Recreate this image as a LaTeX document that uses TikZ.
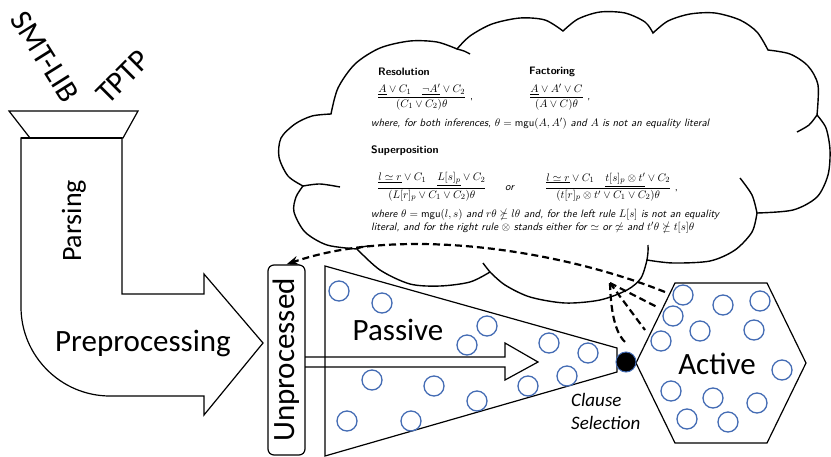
\documentclass[tikz,border=0pt]{standalone}
\usepackage{amsmath,amssymb}
\usepackage{fontspec}
\newfontfamily\calibri{Carlito}
\usetikzlibrary{arrows.meta}
\definecolor{klauselblau}{RGB}{68,108,180}

\begin{document}
\begin{tikzpicture}[x=1pt,y=-1pt,
	umriss/.style={line width=1.2pt},
	wolkenlinie/.style={line width=1.4pt},
	klausel/.style={circle, draw=klauselblau, line width=1.3pt, minimum size=20pt, inner sep=0pt},
	gross/.style={font=\calibri\fontsize{31}{36}\selectfont, inner sep=0pt},
	regel/.style={font=\sffamily\fontsize{10.8}{13}\selectfont, inner sep=0pt, anchor=west},
	kopf/.style={regel, font=\sffamily\bfseries\fontsize{10.8}{13}\selectfont},
	bemerkung/.style={regel, font=\sffamily\itshape\fontsize{10.8}{13}\selectfont},
	gestrichelt/.style={line width=2.2pt, dash pattern=on 7pt off 4pt}]

	\useasboundingbox (0,0) rectangle (831,456);

	% Trichter
	\draw[umriss] (9,111) -- (138,111) -- (123,138) -- (30,138) -- cycle;

	% L-Pfeil
	\draw[umriss] (21,138) -- (122,138) -- (122,294) -- (204,294) -- (204,274) -- (263,343)
		-- (204,415) -- (204,396) -- (110,396) .. controls (61,396) and (21,356) .. (21,307) -- cycle;
	\draw[line width=2.6pt] (21,138) -- (122,138);

	% Eingabeformate
	\node[gross, rotate=-58] (smtlib) at (45,57) {SMT-LIB};
	\node[gross, rotate=45] (tptp) at (123,77) {TPTP};

	% Beschriftung L-Pfeil
	\node[gross, font=\calibri\fontsize{28}{32}\selectfont, rotate=90] (parsing) at (74,221) {Parsing};
	\node[gross] (vorverarb) at (143,343) {Preprocessing};

	% Wolke
	\filldraw[wolkenlinie, fill=white]
		plot[smooth] coordinates {(331,114) (338,88) (355,64) (380,48) (410,41) (437,42) (457,49)}
		-- plot[smooth] coordinates {(457,49) (470,36) (492,24) (520,18) (545,20) (563,31)}
		-- plot[smooth] coordinates {(563,31) (578,19) (600,12) (625,13) (645,22) (653,33)}
		-- plot[smooth] coordinates {(653,33) (668,21) (690,14) (715,13) (740,20) (757,32) (768,50)}
		-- plot[smooth] coordinates {(768,50) (790,54) (808,66) (818,85) (817,115)}
		-- plot[smooth] coordinates {(817,115) (826,128) (830,150) (828,175) (817,197) (793,210) (757,213)}
		-- plot[smooth] coordinates {(757,213) (752,232) (735,250) (710,261) (673,263) (647,260)}
		-- plot[smooth] coordinates {(647,260) (641,278) (627,290) (600,300) (565,303) (530,297) (505,285) (490,272)}
		-- plot[smooth] coordinates {(490,272) (470,282) (440,286) (410,284) (380,270) (357,249)}
		-- plot[smooth] coordinates {(357,249) (327,245) (305,232) (294,212) (296,197) (303,186)}
		-- plot[smooth] coordinates {(303,186) (288,176) (279,157) (281,138) (295,124) (312,116) (331,114)}
		-- cycle;

	% innere Wolkenboegen
	\draw[wolkenlinie] plot[smooth] coordinates {(457,49) (464,51) (470,54)};
	\draw[wolkenlinie] plot[smooth] coordinates {(817,115) (809,125) (797,132)};
	\draw[wolkenlinie] plot[smooth] coordinates {(740,178) (752,195) (757,213)};
	\draw[wolkenlinie] plot[smooth] coordinates {(648,245) (648,252) (647,260)};
	\draw[wolkenlinie] plot[smooth] coordinates {(490,272) (486,267) (483,263)};
	\draw[wolkenlinie] plot[smooth] coordinates {(357,249) (362,247) (368,246)};
	\draw[wolkenlinie] plot[smooth] coordinates {(303,186) (320,184) (340,187)};

	% Inferenzregeln
	\node[kopf] (reskopf) at (378,72) {Resolution};
	\node[regel] (resregel) at (377,97)
		{$\displaystyle\frac{\underline{A}\vee C_1\quad\underline{\neg A'}\vee C_2}{(C_1\vee C_2)\theta}$\ ,};
	\node[kopf] (fakkopf) at (529,72) {Factoring};
	\node[regel] (fakregel) at (529,97)
		{$\displaystyle\frac{\underline{A}\vee A'\vee C}{(A\vee C)\theta}$\ ,};
	\node[bemerkung] (beide) at (371,124)
		{where, for both inferences, $\theta=\textup{mgu}(A,A')$ and $A$ is not an equality literal};
	\node[kopf] (supkopf) at (371,151) {Superposition};
	\node[regel] (suplinks) at (377,187)
		{$\displaystyle\frac{\underline{l\simeq r}\vee C_1\quad\underline{L[s]_p}\vee C_2}{(L[r]_p\vee C_1\vee C_2)\theta}$};
	\node[bemerkung] (oder) at (505,188) {or};
	\node[regel] (suprechts) at (545,187)
		{$\displaystyle\frac{\underline{l\simeq r}\vee C_1\quad\underline{t[s]_p\otimes t'}\vee C_2}{(t[r]_p\otimes t'\vee C_1\vee C_2)\theta}$\ ,};
	\node[bemerkung, align=left] (bedingung) at (371,221.5)
		{where $\theta=\textup{mgu}(l,s)$ and $r\theta\nsucceq l\theta$ and, for the left rule $L[s]$ is not an equality\\
		literal, and for the right rule $\otimes$ stands either for $\simeq$ or $\not\simeq$ and $t'\theta\nsucceq t[s]\theta$};

	% Unprocessed
	\node[umriss, draw, rounded corners=6pt, rotate=90, minimum width=190pt, minimum height=37pt, gross] (unbearb) at (286.5,360) {Unprocessed};

	% Passive Menge
	\coordinate (PLo) at (325,266);
	\coordinate (PRo) at (617,348);
	\coordinate (PRu) at (617,372);
	\coordinate (PLu) at (325,456);
	\draw[umriss] (PLo) -- (PRo) -- (PRu) -- (PLu) -- cycle;
	\node[gross] (passiv) at (398,330) {Passive};

	% Pfeil Unprocessed -> Passive
	\draw[umriss] (305,357) -- (505,357) -- (505,343) -- (538,362) -- (505,380) -- (505,367) -- (305,367);

	% Klauseln in Passive
	\foreach \p [count=\i] in {(339,291),(382,303),(487,326),(467,345),(549,343),(588,353),(372,380),
		(434,386),(567,376),(528,386),(477,401),(347,421),(411,421)}
		\node[klausel] (pas\i) at \p {};

	% Active Menge
	\draw[umriss] (675,283) -- (767,283) -- (806,363) -- (767,443) -- (675,443) -- (636,363) -- cycle;
	\node[gross] (aktiv) at (717,364) {Active};

	% Klauseln in Active
	\foreach \p [count=\i] in {(683,295),(673,316),(661,341),(700,331),(723,305),(760,301),(754,330),
		(782,370),(671,391),(713,398),(757,403),(687,419),(728,422)}
		\node[klausel] (akt\i) at \p {};

	% Klauselauswahl
	\node[circle, fill=black, draw=klauselblau, line width=1pt, minimum size=20pt, inner sep=0pt] (auswahl) at (626,362) {};
	\node[font=\calibri\itshape\fontsize{19}{23}\selectfont, align=left, anchor=west, inner sep=0pt] (auswahltext) at (571,411) {Clause\\Selection};

	% gestrichelte Linien
	\coordinate (aktivecke) at (665,292);
	\coordinate (gabel) at (610,283);
	\coordinate (ziel1) at (657,307);
	\coordinate (ziel2) at (645,330);
	\coordinate (ziel3) at (626,343);
	\draw[gestrichelt, -{Stealth[length=12pt,width=9pt]}] (aktivecke) .. controls (560,250) and (400,225) .. (unbearb.east);
	\draw[gestrichelt] (gabel) -- (ziel1);
	\draw[gestrichelt] (gabel) -- (ziel2);
	\draw[gestrichelt] (gabel) .. controls (611,318) and (617,335) .. (ziel3);

\end{tikzpicture}
\end{document}
